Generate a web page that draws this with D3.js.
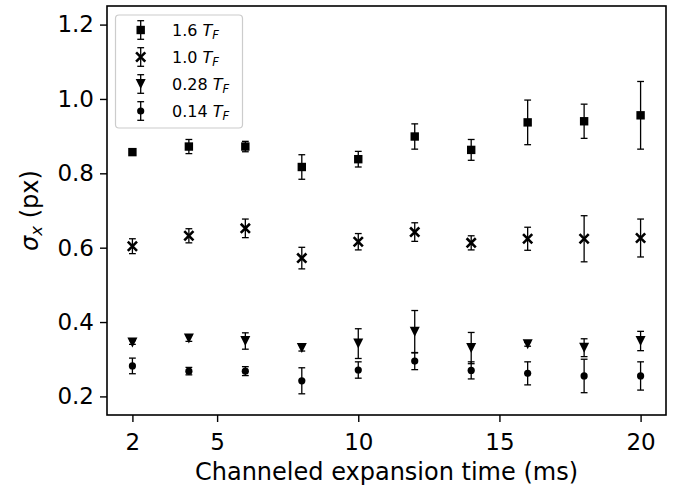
<!DOCTYPE html>
<html>
<head>
<meta charset="utf-8">
<script src="https://cdn.jsdelivr.net/npm/d3@7"></script>
<style>
  html, body { margin: 0; padding: 0; background: #fff; }
  svg { display: block; font-family: "DejaVu Sans", sans-serif; }
</style>
</head>
<body>
<svg id="chart" width="680" height="495"></svg>
<script>
// ---- data ----
const times = [2, 4, 6, 8, 10, 12, 14, 16, 18, 20];
const sigma16 = [0.857, 0.872, 0.872, 0.817, 0.838, 0.899, 0.863, 0.937, 0.940, 0.956];
const err16   = [0.008, 0.019, 0.014, 0.033, 0.021, 0.034, 0.028, 0.060, 0.046, 0.091];
const sigma10 = [0.604, 0.632, 0.652, 0.572, 0.616, 0.642, 0.613, 0.624, 0.624, 0.626];
const err10   = [0.020, 0.019, 0.025, 0.029, 0.022, 0.025, 0.019, 0.031, 0.062, 0.051];
const sigma028 = [0.345, 0.356, 0.349, 0.330, 0.342, 0.374, 0.330, 0.340, 0.331, 0.349];
const err028   = [0.005, 0.008, 0.022, 0.008, 0.040, 0.057, 0.042, 0.005, 0.024, 0.026];
const sigma014 = [0.282, 0.268, 0.268, 0.242, 0.271, 0.295, 0.270, 0.262, 0.255, 0.255];
const err014   = [0.021, 0.010, 0.012, 0.035, 0.022, 0.023, 0.023, 0.031, 0.045, 0.038];
const seriesLabels = ["1.6", "1.0", "0.28", "0.14"];
const seriesMarkers = ["square", "cross", "triangle", "circle"];
const xTicks = [2, 5, 10, 15, 20];
const yTicks = [0.2, 0.4, 0.6, 0.8, 1.0, 1.2];
const xDomain = [1.1, 20.9];
const yDomain = [0.15, 1.25];

const series = [
  { label: seriesLabels[0], marker: seriesMarkers[0], y: sigma16, e: err16 },
  { label: seriesLabels[1], marker: seriesMarkers[1], y: sigma10, e: err10 },
  { label: seriesLabels[2], marker: seriesMarkers[2], y: sigma028, e: err028 },
  { label: seriesLabels[3], marker: seriesMarkers[3], y: sigma014, e: err014 }
];

// ---- layout ----
const svg = d3.select("#chart");
const L = 107, R = 666, T = 6, B = 415;
const x = d3.scaleLinear().domain(xDomain).range([L, R]);
const y = d3.scaleLinear().domain(yDomain).range([B, T]);

// axes
const xAxis = d3.axisBottom(x).tickValues(xTicks).tickFormat(d3.format("d")).tickSize(7).tickPadding(6);
const yAxis = d3.axisLeft(y).tickValues(yTicks).tickFormat(d3.format(".1f")).tickSize(7).tickPadding(6);

const gx = svg.append("g").attr("transform", `translate(0,${B})`).call(xAxis);
const gy = svg.append("g").attr("transform", `translate(${L},0)`).call(yAxis);
[gx, gy].forEach(g => {
  g.select(".domain").remove();
  g.selectAll(".tick line").attr("stroke", "#000").attr("stroke-width", 1.4);
  g.selectAll(".tick text").attr("fill", "#000").style("font-size", "23px")
   .style("font-family", "DejaVu Sans, sans-serif");
});
gx.selectAll(".tick text").attr("dy", "0.95em");

// frame
svg.append("rect").attr("x", L).attr("y", T).attr("width", R - L).attr("height", B - T)
  .attr("fill", "none").attr("stroke", "#000").attr("stroke-width", 1.6);

// labels
svg.append("text").attr("x", (L + R) / 2).attr("y", 480).attr("text-anchor", "middle")
  .style("font-size", "24px").attr("fill", "#000").text("Channeled expansion time (ms)");
const yl = svg.append("text").attr("transform", `translate(38,${(T + B) / 2}) rotate(-90)`)
  .attr("text-anchor", "middle").style("font-size", "24px").attr("fill", "#000");
yl.append("tspan").style("font-style", "italic").text("σ");
yl.append("tspan").style("font-style", "italic").style("font-size", "16.5px").attr("dy", "4").text("x");
yl.append("tspan").attr("dy", "-4").text(" (px)");

// marker drawing
function drawMarker(g, type, cx, cy) {
  if (type === "square") {
    g.append("rect").attr("x", cx - 4.2).attr("y", cy - 4.2).attr("width", 8.4).attr("height", 8.4)
      .attr("fill", "#000");
  } else if (type === "circle") {
    g.append("circle").attr("cx", cx).attr("cy", cy).attr("r", 3.6).attr("fill", "#000");
  } else if (type === "triangle") {
    const s = 5;
    g.append("path").attr("d", `M${cx - s},${cy - s}L${cx + s},${cy - s}L${cx},${cy + s}Z`)
      .attr("fill", "#000");
  } else if (type === "cross") {
    const s = 4.6;
    g.append("path").attr("d", `M${cx - s},${cy - s}L${cx + s},${cy + s}M${cx - s},${cy + s}L${cx + s},${cy - s}`)
      .attr("stroke", "#000").attr("stroke-width", 2.6).attr("fill", "none");
  }
}
function drawErr(g, cx, y1, y2) {
  const cw = 3.4;
  g.append("line").attr("x1", cx).attr("x2", cx).attr("y1", y1).attr("y2", y2)
    .attr("stroke", "#000").attr("stroke-width", 1.3);
  [y1, y2].forEach(yy => g.append("line").attr("x1", cx - cw).attr("x2", cx + cw)
    .attr("y1", yy).attr("y2", yy).attr("stroke", "#000").attr("stroke-width", 1.3));
}

// series
series.forEach(s => {
  const g = svg.append("g");
  times.forEach((t, i) => drawErr(g, x(t), y(s.y[i] + s.e[i]), y(s.y[i] - s.e[i])));
  times.forEach((t, i) => drawMarker(g, s.marker, x(t), y(s.y[i])));
});

// legend
const lg = svg.append("g");
lg.append("rect").attr("x", 115.5).attr("y", 15).attr("width", 127).attr("height", 113).attr("rx", 3.5)
  .attr("fill", "#fff").attr("fill-opacity", 0.8).attr("stroke", "#cccccc").attr("stroke-width", 1.2);
series.forEach((s, i) => {
  const cy = 30 + i * 27;
  drawErr(lg, 140.7, cy - 9.3, cy + 9.3);
  drawMarker(lg, s.marker, 140.7, cy);
  const t = lg.append("text").attr("x", 172).attr("y", cy + 6).style("font-size", "16px").attr("fill", "#000");
  t.append("tspan").text(s.label + " ");
  t.append("tspan").style("font-style", "italic").text("T");
  t.append("tspan").style("font-style", "italic").style("font-size", "11.5px").attr("dy", "3").text("F");
});
</script>
</body>
</html>
